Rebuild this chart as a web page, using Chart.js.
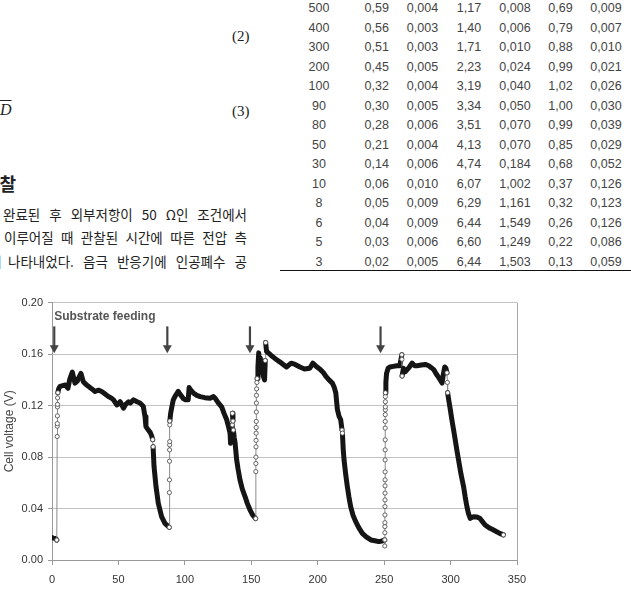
<!DOCTYPE html>
<html>
<head>
<meta charset="utf-8">
<script src="https://cdn.jsdelivr.net/npm/chart.js@4.4.1/dist/chart.umd.min.js"></script>
<style>
  html, body { margin: 0; padding: 0; background: #fff; }
  body { width: 631px; height: 594px; overflow: hidden; position: relative; color: #222; }
  .abs { position: absolute; white-space: nowrap; }
  .serif { font-family: "Liberation Serif", "DejaVu Serif", serif; font-size: 15px; }
  .kr { position: absolute; font-family: "Noto Sans CJK KR", sans-serif; font-size: 13.5px; line-height: 18px;
        text-align: justify; text-align-last: justify; color: #222; }
  .cell { position: absolute; font-family: "Liberation Sans", Arial, sans-serif; font-size: 12.5px; color: #444;
          transform: translate(-50%, -50%); white-space: nowrap; }
  #rule { position: absolute; left: 280px; top: 270px; width: 351px; height: 0; border-top: 1.5px solid #111; }
  #wrap { position: absolute; left: 0; top: 290px; width: 545px; height: 304px; }
</style>
</head>
<body>
<div class="abs serif" style="left:232px; top:28px;">(2)</div>
<div class="abs serif" style="left:232px; top:103px;">(3)</div>
<div class="abs serif" style="left:0px; top:101px; font-style:italic; font-size:16px; text-decoration:overline;">D</div>
<div class="abs" style="left:-200px; top:170px; width:216px; text-align:right; font-family:'Noto Sans CJK KR'; font-weight:bold; font-size:18px;">3. 결과 및 고찰</div>

<div class="kr" style="left:3px; top:205px; width:244px;">완료된 후 외부저항이 50 Ω인 조건에서</div>
<div class="kr" style="left:4px; top:228px; width:243px;">이루어질 때 관찰된 시간에 따른 전압 측</div>
<div class="kr" style="left:-11px; top:252px; width:13px; text-align:left; text-align-last:left;">에</div>
<div class="kr" style="left:8px; top:252px; width:239px;">나타내었다. 음극 반응기에 인공폐수 공</div>

<div id="table"></div>
<div id="rule"></div>

<div id="wrap"><canvas id="voltage_chart"></canvas></div>

<script>
// Table (right column of the page)
const tableResistance = ["500", "400", "300", "200", "100", "90", "80", "50", "30", "10", "8", "6", "5", "3"];
const tableVoltage    = ["0,59", "0,56", "0,51", "0,45", "0,32", "0,30", "0,28", "0,21", "0,14", "0,06", "0,05", "0,04", "0,03", "0,02"];
const tableVoltageSd  = ["0,004", "0,003", "0,003", "0,005", "0,004", "0,005", "0,006", "0,004", "0,006", "0,010", "0,009", "0,009", "0,006", "0,005"];
const tableCurrent    = ["1,17", "1,40", "1,71", "2,23", "3,19", "3,34", "3,51", "4,13", "4,74", "6,07", "6,29", "6,44", "6,60", "6,44"];
const tableCurrentSd  = ["0,008", "0,006", "0,010", "0,024", "0,040", "0,050", "0,070", "0,070", "0,184", "1,002", "1,161", "1,549", "1,249", "1,503"];
const tablePower      = ["0,69", "0,79", "0,88", "0,99", "1,02", "1,00", "0,99", "0,85", "0,68", "0,37", "0,32", "0,26", "0,22", "0,13"];
const tablePowerSd    = ["0,009", "0,007", "0,010", "0,021", "0,026", "0,030", "0,039", "0,029", "0,052", "0,126", "0,123", "0,126", "0,086", "0,059"];

// Cell voltage over time
const timeH = [
  0, 1, 2, 3, 3.6,
  3.9, 3.95, 4.0, 4.05, 4.1, 4.15, 4.2, 4.4,
  5, 6, 8, 10, 12, 13.5, 15.3, 16, 17.3, 19, 19.8, 21.8, 23.6, 25, 27.4, 30, 32.4, 35, 37.4, 40,
  42.5, 44.5, 46.3, 48.8, 50, 51.3, 53.8, 55.5, 57.6, 59, 61.4, 64, 66.2, 68.7, 70, 70.7, 72.5, 74,
  75, 75.8, 76.1, 76.8, 78.3, 80, 82.5, 85, 88.3,
  88.35, 88.4, 88.45, 88.5, 88.55, 88.6, 88.65, 88.7,
  89.3, 90, 91.3, 92.5, 95, 96.3, 98.8, 100.5, 102.5,
  103.2, 104.5, 106.5, 109, 111.5, 115, 119, 121.5, 123, 125.3, 127.7, 129.5, 131.5, 133, 134,
  134.4, 135.3, 135.7, 135.8, 136.2, 136.5, 137.2, 137.8, 139, 140, 141.5, 143.3, 145.3, 147, 149, 151, 153.3,
  153.4, 153.45, 153.5, 153.55, 153.6, 153.65, 153.7, 153.75, 153.8, 153.85, 153.9, 154, 154.2, 154.4,
  155, 155.6, 156.2, 156.8, 157.5, 158.2, 159, 160, 160.5, 160.8, 161.5, 162.8, 165, 168, 170, 172.8,
  176.5, 180, 183, 186.6, 190, 194, 196.3, 199.5, 202, 204, 206, 208.5, 211, 212.5, 213.6, 214.8, 216,
  217.3, 218.3, 218.6, 219.2, 219.8, 221, 222.3, 223.5, 224.8, 226.5, 228.6, 231, 233.6, 236.5, 240,
  243, 246, 248.5, 250.4,
  250.5, 250.52, 250.54, 250.56, 250.58, 250.6, 250.62, 250.64, 250.66, 250.68, 250.7, 250.72, 250.74,
  250.76, 250.78, 250.8, 250.82, 250.84, 250.86, 250.88, 250.9, 250.92, 250.95,
  251.3, 251.8, 253, 254.3, 257, 259.5, 261.8, 263.3, 263.4, 263.5, 264.5, 266, 267.3, 269, 271, 273,
  274.8, 278, 281, 283.6, 285.5, 287.3, 289, 291, 292.5, 293.6, 294.5, 295.6, 296.5, 297.3, 297.6,
  297.8, 298.6, 299.8, 301, 302.3, 303.5, 304.8, 306, 307.8, 309.8, 311, 312.3, 313.5, 314.8, 316,
  317.3, 319.5, 322, 324, 326, 329.7, 332, 334.7, 337, 339.8
];
const voltageV = [
  0.0175, 0.017, 0.0168, 0.0165, 0.0155,
  0.096, 0.104, 0.106, 0.112, 0.119, 0.121, 0.126, 0.130,
  0.133, 0.135, 0.1355, 0.136, 0.1335, 0.141, 0.146, 0.143, 0.1375, 0.139, 0.141, 0.145, 0.1385, 0.137, 0.135, 0.133, 0.131, 0.132, 0.131, 0.129,
  0.127, 0.126, 0.1245, 0.1205, 0.1215, 0.123, 0.118, 0.121, 0.123, 0.122, 0.1245, 0.123, 0.122, 0.1195, 0.1115, 0.1037, 0.101, 0.099,
  0.0965, 0.0935, 0.088, 0.0726, 0.057, 0.0441, 0.0337, 0.0285, 0.0254,
  0.0524, 0.0623, 0.0768, 0.0856, 0.0895, 0.092, 0.105, 0.108,
  0.114, 0.118, 0.1245, 0.127, 0.131, 0.129, 0.1255, 0.1245, 0.1245,
  0.134, 0.132, 0.1297, 0.128, 0.127, 0.1262, 0.1258, 0.127, 0.1255, 0.122, 0.119, 0.114, 0.109, 0.103, 0.0986,
  0.0908, 0.093, 0.105, 0.114, 0.108, 0.101, 0.095, 0.091, 0.0778, 0.071, 0.0623, 0.055, 0.0493, 0.044, 0.039, 0.035, 0.0322,
  0.0687, 0.075, 0.08, 0.088, 0.093, 0.0986, 0.103, 0.1077, 0.115, 0.122, 0.128, 0.133, 0.138, 0.141,
  0.15, 0.161, 0.15, 0.157, 0.146, 0.153, 0.143, 0.14, 0.155, 0.169, 0.162, 0.161, 0.159, 0.1565, 0.155, 0.153,
  0.150, 0.153, 0.152, 0.150, 0.1485, 0.149, 0.153, 0.150, 0.148, 0.146, 0.143, 0.140, 0.1375, 0.134, 0.13, 0.117, 0.112,
  0.109, 0.101, 0.0986, 0.086, 0.078, 0.067, 0.057, 0.049, 0.0415, 0.035, 0.0298, 0.025, 0.0207, 0.018, 0.0156,
  0.015, 0.0143, 0.0148, 0.0156,
  0.0109, 0.0156, 0.0212, 0.026, 0.029, 0.035, 0.0415, 0.0467, 0.052, 0.0576, 0.0623, 0.0685, 0.0778,
  0.0856, 0.0934, 0.1025, 0.1077, 0.113, 0.1167, 0.119, 0.123, 0.127, 0.13,
  0.138, 0.145, 0.149, 0.150, 0.1505, 0.151, 0.151, 0.1595, 0.156, 0.143, 0.149, 0.1465, 0.148, 0.15, 0.153, 0.151,
  0.151, 0.1515, 0.152, 0.151, 0.1495, 0.148, 0.145, 0.142, 0.1395, 0.1375, 0.144, 0.15, 0.149, 0.1455, 0.138,
  0.13, 0.1245, 0.117, 0.109, 0.101, 0.0934, 0.085, 0.0778, 0.067, 0.057, 0.049, 0.0415, 0.036, 0.0324, 0.033,
  0.0337, 0.0335, 0.0324, 0.0298, 0.0272, 0.0246, 0.0235, 0.022, 0.0207, 0.0195
];

const feedTimes = [1.7, 86.8, 149, 247.3];
const feedLabel = "Substrate feeding";

// ---- table ----
const tableCols = [tableResistance, tableVoltage, tableVoltageSd, tableCurrent, tableCurrentSd, tablePower, tablePowerSd];
const colCenters = [319, 376.7, 422.5, 469, 515, 560.5, 606];
const table = document.getElementById('table');
tableResistance.forEach((_, i) => {
  tableCols.forEach((col, j) => {
    const d = document.createElement('div');
    d.className = 'cell';
    d.textContent = col[i];
    d.style.left = colCenters[j] + 'px';
    d.style.top = (8.3 + i * 19.5) + 'px';
    table.appendChild(d);
  });
});

// ---- chart ----
const points = timeH.map((t, i) => ({x: t, y: voltageV[i]}));
const isJump = (a, b) => Math.abs(b.x - a.x) < 0.35;

const feedPlugin = {
  id: 'feed',
  afterDraw(chart) {
    const {ctx, chartArea, scales: {x, y}} = chart;
    ctx.save();
    ctx.strokeStyle = '#a8a8a8';
    ctx.lineWidth = 1;
    ctx.beginPath();
    ctx.moveTo(Math.round(chartArea.right) + 0.5, chartArea.top);
    ctx.lineTo(Math.round(chartArea.right) + 0.5, chartArea.bottom);
    ctx.stroke();

    ctx.fillStyle = '#444';
    ctx.strokeStyle = '#444';
    feedTimes.forEach(t => {
      const px = x.getPixelForValue(t);
      const top = y.getPixelForValue(0.1816);
      const tip = y.getPixelForValue(0.1608);
      ctx.lineWidth = 2.2;
      ctx.beginPath();
      ctx.moveTo(px, top);
      ctx.lineTo(px, tip - 6);
      ctx.stroke();
      ctx.beginPath();
      ctx.moveTo(px - 4.5, tip - 8);
      ctx.lineTo(px + 4.5, tip - 8);
      ctx.lineTo(px, tip);
      ctx.closePath();
      ctx.fill();
    });
    ctx.font = 'bold 12px "Liberation Sans", Arial, sans-serif';
    ctx.fillStyle = '#555';
    ctx.textBaseline = 'middle';
    ctx.fillText(feedLabel, x.getPixelForValue(1.6), y.getPixelForValue(0.1895));
    ctx.restore();
  }
};

const voltage_chart = document.getElementById('voltage_chart');

let chart = new Chart(voltage_chart, {
  type: 'scatter',
  data: {
    datasets: [{
      label: 'Cell voltage',
      data: points,
      showLine: true,
      tension: 0,
      borderColor: '#111',
      borderWidth: 5,
      borderJoinStyle: 'round',
      borderCapStyle: 'round',
      segment: {
        borderWidth: ctx => isJump(ctx.p0.parsed, ctx.p1.parsed) ? 1 : 5,
        borderColor: ctx => isJump(ctx.p0.parsed, ctx.p1.parsed) ? '#8a8a8a' : '#151515'
      },
      pointRadius: ctx => {
        const i = ctx.dataIndex;
        const p = points[i];
        const prev = points[i - 1], next = points[i + 1];
        if ((prev && isJump(prev, p)) || (next && isJump(p, next)) || !next) return 2.1;
        return 0;
      },
      pointBackgroundColor: '#fff',
      pointBorderColor: '#555',
      pointBorderWidth: 0.9
    }]
  },
  plugins: [feedPlugin],
  options: {
    responsive: true,
    maintainAspectRatio: false,
    animation: false,
    layout: { padding: { top: 12.7, right: 28, left: 0, bottom: 0 } },
    plugins: {
      legend: { display: false },
      tooltip: { enabled: false }
    },
    scales: {
      x: {
        type: 'linear',
        min: 0,
        max: 350,
        ticks: {
          stepSize: 50,
          padding: 8,
          color: '#333',
          font: { family: 'Liberation Sans', size: 11 }
        },
        grid: { drawOnChartArea: false, tickLength: 5, tickColor: '#999' },
        border: { color: '#999' },
        afterFit: s => { s.height = 34; }
      },
      y: {
        min: 0,
        max: 0.2,
        ticks: {
          stepSize: 0.04,
          padding: 5,
          color: '#333',
          font: { family: 'Liberation Sans', size: 11 },
          callback: v => v.toFixed(2)
        },
        grid: { color: '#c2c2c2', tickLength: 4, tickColor: '#999' },
        border: { color: '#999' },
        title: {
          display: true,
          text: 'Cell voltage (V)',
          color: '#444',
          padding: 2,
          font: { family: 'Liberation Sans', size: 12 }
        },
        afterFit: s => { s.width = 52; }
      }
    }
  }
});
</script>
</body>
</html>
